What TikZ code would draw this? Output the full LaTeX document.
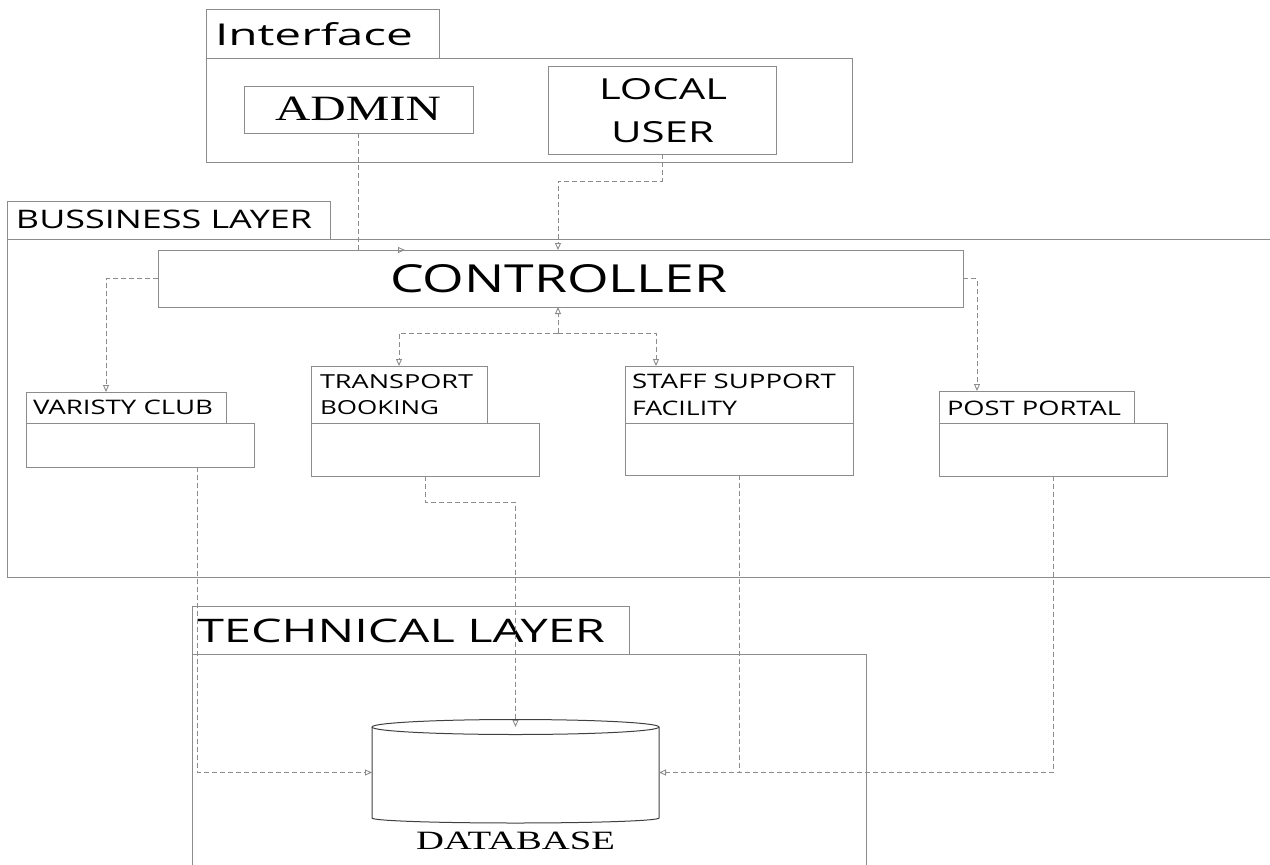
\documentclass[tikz,border=0pt]{standalone}
\usepackage{fontspec}
\setmainfont{Open Sans}
\newfontfamily\serifface{Liberation Serif}
\usetikzlibrary{arrows.meta}
% text stretched to a given width and cap height (in pt)
\newcommand{\fitbox}[3]{\resizebox{#1pt}{#2pt}{#3}}

\begin{document}
\begin{tikzpicture}[x=1pt,y=-1pt,
  frame/.style={draw=black!45, line width=0.95pt, inner sep=0pt, outer sep=0pt, anchor=north west},
  label/.style={anchor=base west, inner sep=0pt, outer sep=0pt, text=black},
  conn/.style={draw=black!45, line width=0.9pt, dash pattern=on 5pt off 3pt},
  tip/.style={-{Triangle[open, length=7pt, width=6pt]}},
]
\useasboundingbox (0,0) rectangle (1270,865);

% ---------- Interface ----------
\node[frame, minimum width=233pt, minimum height=49pt] (iftab) at (206,9) {};
\node[frame, minimum width=646pt, minimum height=104pt] (ifframe) at (206,58) {};
\node[label] (iftext) at (215,45) {\fitbox{198}{23}{Interface}};
\node[frame, minimum width=229pt, minimum height=47pt] (admin) at (244,86) {};
\node[label] (admintext) at (275,120) {\fitbox{166}{23.5}{\serifface ADMIN}};
\node[frame, minimum width=228pt, minimum height=88pt] (local) at (548,66) {};
\node[label] (localtext) at (599,99) {\fitbox{128}{21}{LOCAL}};
\node[label] (usertext) at (611,142) {\fitbox{103}{21}{USER}};

% ---------- Business layer ----------
\node[frame, minimum width=323pt, minimum height=38pt] (bltab) at (7,201) {};
\node[frame, minimum width=1270pt, minimum height=338pt] (blframe) at (7,239) {};
\node[label] (bltext) at (16,228) {\fitbox{296}{18.5}{BUSSINESS LAYER}};
\node[frame, minimum width=805pt, minimum height=57pt] (ctrl) at (158,250) {};
\node[label] (ctrltext) at (390,292) {\fitbox{337}{28}{CONTROLLER}};

\node[frame, minimum width=200pt, minimum height=31pt] (vtab) at (26,392) {};
\node[frame, minimum width=228pt, minimum height=44pt] (vbody) at (26,423) {};
\node[label] (vtext) at (33,414) {\fitbox{180}{14.5}{VARISTY CLUB}};

\node[frame, minimum width=176pt, minimum height=57pt] (ttab) at (311,366) {};
\node[frame, minimum width=228pt, minimum height=53pt] (tbody) at (311,423) {};
\node[label] (ttext1) at (320,388) {\fitbox{153}{14}{TRANSPORT}};
\node[label] (ttext2) at (320,414) {\fitbox{119}{14}{BOOKING}};

\node[frame, minimum width=228pt, minimum height=57pt] (stab) at (625,366) {};
\node[frame, minimum width=228pt, minimum height=52pt] (sbody) at (625,423) {};
\node[label] (stext1) at (632,388) {\fitbox{204}{14.5}{STAFF SUPPORT}};
\node[label] (stext2) at (632,415) {\fitbox{105}{14.5}{FACILITY}};

\node[frame, minimum width=195pt, minimum height=32pt] (ptab) at (939,391) {};
\node[frame, minimum width=228pt, minimum height=53pt] (pbody) at (939,423) {};
\node[label] (ptext) at (947,415) {\fitbox{174}{14.5}{POST PORTAL}};

% ---------- Technical layer ----------
\node[frame, minimum width=437pt, minimum height=48pt] (tltab) at (192,606) {};
\node[frame, minimum width=674pt, minimum height=240pt] (tlframe) at (192,654) {};
\node[label] (tltext) at (197,642) {\fitbox{408}{23.5}{TECHNICAL LAYER}};

% database cylinder
\node[inner sep=0pt, outer sep=0pt, minimum width=287pt, minimum height=91pt, anchor=north west] (db) at (372,727) {};
\draw[draw=black!75, line width=1pt] (db.north) ellipse [x radius=143.5, y radius=7.5];
\draw[draw=black!75, line width=1pt] (db.north west) -- (db.south west)
  arc[start angle=180, end angle=0, x radius=143.5, y radius=5] -- (db.north east);
\node[label] (dbtext) at (416,849) {\fitbox{199}{17.5}{\serifface DATABASE}};

% ---------- connectors ----------
\coordinate (adminin) at (405,250);
\draw[conn, tip] (admin.south) |- (adminin);

\coordinate (localbend) at (558,181);
\draw[conn, tip] (local.south) |- (localbend) -- (localbend |- ctrl.north);

\coordinate (varin) at (106,392);
\draw[conn, tip] (ctrl.west) -| (varin);

\coordinate (postin) at (977,391);
\draw[conn, tip] (ctrl.east) -| (postin);

\coordinate (mid) at (558,333);
\draw[conn, tip] (mid) -- (mid |- ctrl.south);
\draw[conn, tip] (mid) -| (399,366) coordinate (transin);
\draw[conn, tip] (mid) -| (656,366) coordinate (staffin);

\coordinate (varout) at (197,467);
\draw[conn, tip] (varout) |- (db.west);

\coordinate (transout) at (425,476);
\coordinate (transbend) at (515.5,502);
\draw[conn, tip] (transout) |- (transbend) -- (db.north);

\coordinate (staffout) at (739,475);
\draw[conn] (staffout) -- (staffout |- db.east);

\coordinate (postout) at (1053,476);
\draw[conn, tip] (postout) |- (db.east);
\end{tikzpicture}
\end{document}
